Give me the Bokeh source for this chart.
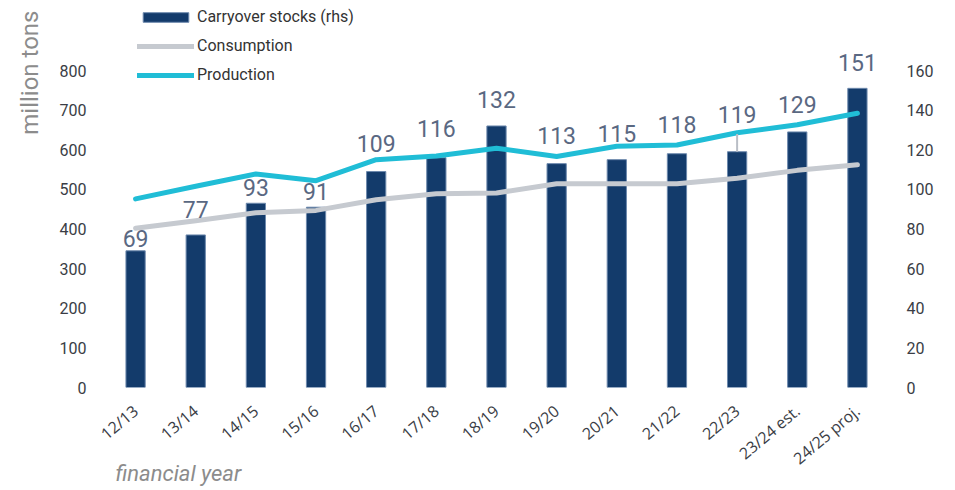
import math
from bokeh.plotting import figure
from bokeh.models import (ColumnDataSource, FactorRange, Range1d, LinearAxis, FixedTicker,
                          Legend, LegendItem, Title)
from bokeh.core.properties import value
from bokeh.embed import file_html
from bokeh.resources import INLINE

years = ["12/13", "13/14", "14/15", "15/16", "16/17", "17/18", "18/19",
         "19/20", "20/21", "21/22", "22/23", "23/24 est.", "24/25 proj."]
stocks = [69, 77, 93, 91, 109, 116, 132, 113, 115, 118, 119, 129, 151]
production = [476, 508, 539, 522, 575, 584, 604, 583, 609, 612, 643, 663, 692]
consumption = [402, 421, 441, 447, 474, 489, 491, 514, 514, 514, 528, 548, 562]
left_ticks = [0, 100, 200, 300, 400, 500, 600, 700, 800]
right_ticks = [0, 20, 40, 60, 80, 100, 120, 140, 160]

# style: pixel offset of each value label above its bar
label_offset_px = [-12, -25, -16, -16, -28, -29, -26, -28, -26, -29, -37, -27, -26]

BAR = "#133b6b"
PROD = "#20bdd6"
CONS = "#c6cad0"
TICK = "#3a3d45"

raised = "22/23"
src = ColumnDataSource(dict(year=years, stocks=stocks, production=production,
                            consumption=consumption,
                            label=[str(s) for s in stocks], yoff=label_offset_px))

W, H = 939, 490
p = figure(width=W, height=H, x_range=FactorRange(factors=years, range_padding=0),
           y_range=Range1d(0, 956.5), output_backend="svg", toolbar_location=None,
           min_border_left=105, min_border_right=52, min_border_top=8, min_border_bottom=103)
p.extra_y_ranges = {"right": Range1d(0, 191.3)}

bars = p.vbar(x="year", top="stocks", width=0.32, y_range_name="right", source=src,
              fill_color=BAR, line_color="#6d89ad", line_width=1)
cons = p.line(x="year", y="consumption", source=src, line_width=5, line_color=CONS,
              line_cap="round", line_join="round")
prod = p.line(x="year", y="production", source=src, line_width=5, line_color=PROD,
              line_cap="round", line_join="round")

# leader line for the raised label
ri = years.index(raised)
p.segment(x0=[raised], y0=[stocks[ri]], x1=[raised], y1=[stocks[ri] + 9],
          y_range_name="right", line_color="#b9bec6", line_width=2)

p.text(x="year", y="stocks", text="label", source=src, y_range_name="right",
       y_offset="yoff", text_align="center", text_baseline="alphabetic",
       text_font=value("Roboto"), text_font_size="23px", text_color="#5a6882")

p.xgrid.visible = False
p.ygrid.visible = False
p.outline_line_color = None

for ax in p.yaxis:
    ax.ticker = FixedTicker(ticks=left_ticks)
raxis = LinearAxis(y_range_name="right", ticker=FixedTicker(ticks=right_ticks))
p.add_layout(raxis, "right")

for ax in list(p.yaxis) + [raxis]:
    ax.axis_line_color = None
    ax.major_tick_line_color = None
    ax.minor_tick_line_color = None
    ax.major_tick_out = 0
    ax.major_tick_in = 0
    ax.minor_tick_out = 0
    ax.major_label_text_font = "Roboto"
    ax.major_label_text_font_size = "16px"
    ax.major_label_text_color = TICK
    ax.major_label_standoff = 19

xa = p.xaxis[0]
xa.axis_line_color = None
xa.major_tick_line_color = None
xa.minor_tick_line_color = None
xa.major_tick_out = 0
xa.major_tick_in = 0
xa.minor_tick_out = 0
xa.major_label_orientation = 0.70
xa.major_label_text_font = "Open Sans"
xa.major_label_text_font_size = "16px"
xa.major_label_text_color = TICK
xa.major_label_standoff = 21

p.add_layout(Title(text="million tons", align="right", offset=2, standoff=26,
                   text_font="Roboto", text_font_style="normal", text_font_size="24px",
                   text_color="#8c8c8c"), "left")
p.add_layout(Title(text="financial year", align="left", vertical_align="top", offset=10,
                   standoff=-39, text_font="Roboto", text_font_style="italic",
                   text_font_size="22px", text_color="#8c8c8c"), "below")

legend = Legend(items=[LegendItem(label="Carryover stocks (rhs)", renderers=[bars]),
                       LegendItem(label="Consumption", renderers=[cons]),
                       LegendItem(label="Production", renderers=[prod])],
                location=(32, 303), orientation="vertical", glyph_width=57, glyph_height=12,
                label_height=10, spacing=10, padding=0, margin=0, label_standoff=3,
                label_text_font="Roboto", label_text_font_size="16px",
                label_text_color="#333333", background_fill_alpha=0, border_line_alpha=0)
p.add_layout(legend)

open("out.html", "w").write(file_html(p, INLINE))
